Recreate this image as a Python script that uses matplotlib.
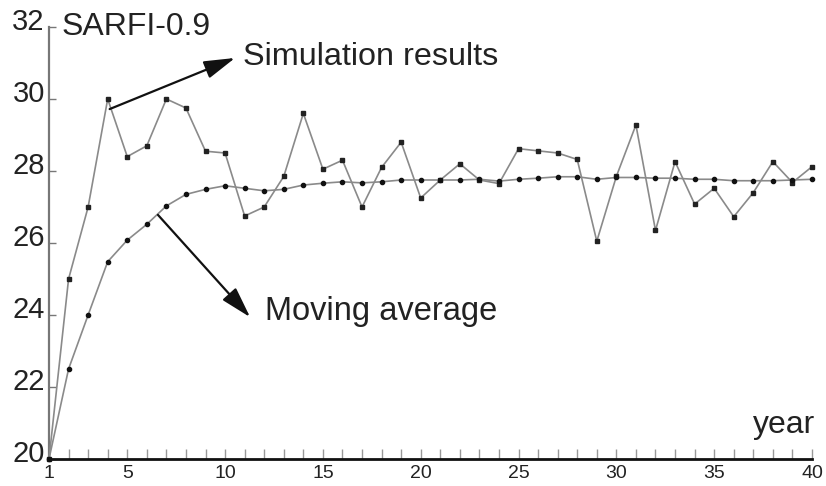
import matplotlib
matplotlib.use("Agg")
import matplotlib.pyplot as plt
from matplotlib.transforms import ScaledTranslation

plt.rcParams['font.family'] = ['Liberation Sans', 'DejaVu Sans']

years = list(range(1, 41))
simulation = [20.0, 25.0, 27.0, 30.0, 28.4, 28.7, 30.0, 29.75, 28.55, 28.5,
              26.75, 27.0, 27.85, 29.6, 28.05, 28.3, 27.0, 28.1, 28.8, 27.25,
              27.75, 28.2, 27.75, 27.65, 28.62, 28.56, 28.5, 28.32, 26.05, 27.85,
              29.28, 26.35, 28.26, 27.08, 27.52, 26.73, 27.4, 28.26, 27.68, 28.12]
moving_avg = [20.0, 22.5, 24.0, 25.48, 26.08, 26.52, 27.03, 27.35, 27.49, 27.59,
              27.52, 27.45, 27.49, 27.61, 27.66, 27.70, 27.67, 27.70, 27.75, 27.75,
              27.75, 27.75, 27.77, 27.72, 27.77, 27.80, 27.84, 27.84, 27.77, 27.82,
              27.82, 27.80, 27.80, 27.77, 27.77, 27.73, 27.73, 27.73, 27.75, 27.77]
x_tick_labels = [1, 5, 10, 15, 20, 25, 30, 35, 40]
y_ticks = [20, 22, 24, 26, 28, 30, 32]

fig = plt.figure(figsize=(8.26, 4.86), dpi=100)
ax = fig.add_axes([49/826, 27/486, (812-49)/826, (459-27)/486])

ax.plot(years, simulation, color='#8a8a8a', lw=1.2, marker='s', ms=3.0,
        mfc='#222222', mec='#222222', zorder=3, clip_on=False)
ax.plot(years, moving_avg, color='#8a8a8a', lw=1.2, marker='o', ms=3.0,
        mfc='#111111', mec='#111111', zorder=3, clip_on=False)

ax.set_xlim(1, 40)
ax.set_ylim(20, 32)
ax.set_xticks(years)
ax.set_xticklabels([str(y) if y in x_tick_labels else '' for y in years], fontsize=14)
ax.set_yticks(y_ticks)
ax.set_yticklabels([str(v) for v in y_ticks], fontsize=21)

ax.tick_params(axis='x', direction='in', length=7, width=1, color='#999999',
               pad=4, labelcolor='#222222')
ax.tick_params(axis='y', direction='in', length=5, width=1, color='#777777',
               pad=3, labelcolor='#222222')

offset = ScaledTranslation(0, -2/72, fig.dpi_scale_trans)
for lbl in ax.get_yticklabels():
    lbl.set_verticalalignment('baseline')
    lbl.set_transform(lbl.get_transform() + offset)

for s in ['top', 'right']:
    ax.spines[s].set_visible(False)
ax.spines['left'].set_color('#777777')
ax.spines['left'].set_linewidth(1.6)
ax.spines['bottom'].set_color('#111111')
ax.spines['bottom'].set_linewidth(2.0)

ax.text(1.66, 31.78, 'SARFI-0.9', fontsize=23, color='#222222', va='baseline', ha='left')
ax.text(40.15, 20.72, 'year', fontsize=23, color='#222222', va='baseline', ha='right')
ax.text(10.92, 30.94, 'Simulation results', fontsize=23.3, color='#222222', va='baseline', ha='left')
ax.text(12.04, 23.86, 'Moving average', fontsize=23.5, color='#222222', va='baseline', ha='left')

arrow_style = dict(arrowstyle='-|>,head_length=1.9,head_width=0.55', color='#111111',
                   lw=1.6, shrinkA=0, shrinkB=0)
ax.annotate('', xy=(10.51, 31.14), xytext=(4.1, 29.72), arrowprops=arrow_style,
            annotation_clip=False)
ax.annotate('', xy=(11.28, 23.94), xytext=(6.57, 26.78), arrowprops=arrow_style,
            annotation_clip=False)

fig.savefig('out.png', dpi=100)
